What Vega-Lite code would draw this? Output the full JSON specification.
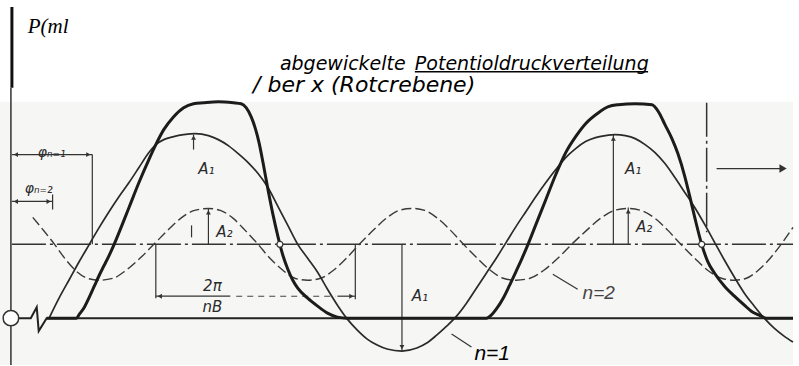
{
  "$schema": "https://vega.github.io/schema/vega-lite/v6.json",
  "width": 799,
  "height": 366,
  "autosize": {"type": "fit", "contains": "padding"},
  "padding": 0,
  "background": "white",
  "config": {"view": {"stroke": null}},
  "datasets": {
    "paper": [{"x": 0, "x2": 799, "p": 143, "p2": -121}],
    "n1": [
      {"x": 49, "p": -75}, {"x": 60, "p": -53}, {"x": 70, "p": -35}, {"x": 80, "p": -17}, {"x": 90, "p": 0},
      {"x": 100, "p": 17}, {"x": 110, "p": 33}, {"x": 120, "p": 48}, {"x": 130, "p": 62}, {"x": 140, "p": 77},
      {"x": 150, "p": 92}, {"x": 157, "p": 100}, {"x": 165, "p": 105}, {"x": 175, "p": 108}, {"x": 185, "p": 110},
      {"x": 197, "p": 111}, {"x": 210, "p": 109}, {"x": 220, "p": 105}, {"x": 230, "p": 99}, {"x": 240, "p": 91},
      {"x": 250, "p": 82}, {"x": 260, "p": 71}, {"x": 270, "p": 57}, {"x": 280, "p": 38}, {"x": 290, "p": 19},
      {"x": 300, "p": 0}, {"x": 310, "p": -14}, {"x": 320, "p": -28}, {"x": 330, "p": -45}, {"x": 340, "p": -61},
      {"x": 350, "p": -75}, {"x": 360, "p": -86}, {"x": 370, "p": -95}, {"x": 380, "p": -101}, {"x": 390, "p": -105},
      {"x": 405, "p": -107}, {"x": 420, "p": -104}, {"x": 430, "p": -99}, {"x": 440, "p": -91}, {"x": 450, "p": -82},
      {"x": 460, "p": -72}, {"x": 470, "p": -59}, {"x": 480, "p": -44}, {"x": 490, "p": -29}, {"x": 500, "p": -14},
      {"x": 510, "p": 2}, {"x": 520, "p": 18}, {"x": 530, "p": 33}, {"x": 540, "p": 48}, {"x": 550, "p": 62},
      {"x": 560, "p": 75}, {"x": 570, "p": 87}, {"x": 580, "p": 96}, {"x": 590, "p": 103}, {"x": 600, "p": 107},
      {"x": 610, "p": 109}, {"x": 620, "p": 110}, {"x": 630, "p": 109}, {"x": 640, "p": 106}, {"x": 650, "p": 100},
      {"x": 660, "p": 92}, {"x": 670, "p": 81}, {"x": 680, "p": 67}, {"x": 690, "p": 52}, {"x": 700, "p": 37},
      {"x": 710, "p": 20}, {"x": 720, "p": 2}, {"x": 730, "p": -16}, {"x": 740, "p": -33}, {"x": 750, "p": -49},
      {"x": 760, "p": -62}, {"x": 770, "p": -74}, {"x": 780, "p": -84}, {"x": 790, "p": -92}, {"x": 799, "p": -98}
    ],
    "total": [
      {"x": 47, "p": -74}, {"x": 77, "p": -74}, {"x": 80, "p": -70}, {"x": 85, "p": -63}, {"x": 90, "p": -53},
      {"x": 95, "p": -42}, {"x": 100, "p": -31}, {"x": 105, "p": -21}, {"x": 110, "p": -11}, {"x": 115, "p": 0},
      {"x": 120, "p": 12}, {"x": 130, "p": 37}, {"x": 140, "p": 62}, {"x": 150, "p": 85}, {"x": 157, "p": 100},
      {"x": 165, "p": 115}, {"x": 175, "p": 128}, {"x": 185, "p": 137}, {"x": 195, "p": 141}, {"x": 205, "p": 142},
      {"x": 220, "p": 143}, {"x": 235, "p": 142}, {"x": 243, "p": 141}, {"x": 248, "p": 137}, {"x": 253, "p": 128},
      {"x": 257, "p": 117}, {"x": 261, "p": 102}, {"x": 265, "p": 82}, {"x": 270, "p": 55}, {"x": 275, "p": 30},
      {"x": 280, "p": 8}, {"x": 285, "p": -11}, {"x": 290, "p": -25}, {"x": 295, "p": -36}, {"x": 300, "p": -44},
      {"x": 310, "p": -54}, {"x": 320, "p": -62}, {"x": 330, "p": -69}, {"x": 340, "p": -73}, {"x": 350, "p": -74},
      {"x": 490, "p": -74}, {"x": 495, "p": -71}, {"x": 500, "p": -65}, {"x": 507, "p": -54}, {"x": 513, "p": -42},
      {"x": 520, "p": -27}, {"x": 526, "p": -14}, {"x": 532, "p": 0}, {"x": 540, "p": 20}, {"x": 550, "p": 45},
      {"x": 560, "p": 70}, {"x": 570, "p": 92}, {"x": 580, "p": 108}, {"x": 590, "p": 121}, {"x": 603, "p": 132},
      {"x": 613, "p": 138}, {"x": 623, "p": 140}, {"x": 640, "p": 141}, {"x": 657, "p": 140}, {"x": 664, "p": 132},
      {"x": 670, "p": 120}, {"x": 677, "p": 106}, {"x": 683, "p": 91}, {"x": 690, "p": 68}, {"x": 695, "p": 48},
      {"x": 700, "p": 27}, {"x": 707, "p": 0}, {"x": 713, "p": -17}, {"x": 720, "p": -29}, {"x": 730, "p": -42},
      {"x": 740, "p": -52}, {"x": 750, "p": -61}, {"x": 757, "p": -67}, {"x": 765, "p": -71}, {"x": 772, "p": -74},
      {"x": 799, "p": -74}
    ],
    "n2": [
      {"x": 33, "p": 27}, {"x": 43, "p": 15}, {"x": 55, "p": 0}, {"x": 66, "p": -15}, {"x": 77, "p": -27},
      {"x": 88, "p": -34}, {"x": 100, "p": -36}, {"x": 114, "p": -34}, {"x": 127, "p": -26}, {"x": 141, "p": -14},
      {"x": 155, "p": 0}, {"x": 169, "p": 14}, {"x": 182, "p": 26}, {"x": 196, "p": 34}, {"x": 210, "p": 36},
      {"x": 222, "p": 34}, {"x": 235, "p": 26}, {"x": 247, "p": 14}, {"x": 260, "p": 0}, {"x": 272, "p": -14},
      {"x": 285, "p": -26}, {"x": 297, "p": -34}, {"x": 310, "p": -36}, {"x": 323, "p": -34}, {"x": 336, "p": -26},
      {"x": 349, "p": -14}, {"x": 362, "p": 0}, {"x": 376, "p": 14}, {"x": 389, "p": 26}, {"x": 402, "p": 34},
      {"x": 415, "p": 36}, {"x": 428, "p": 34}, {"x": 441, "p": 26}, {"x": 454, "p": 14}, {"x": 467, "p": 0},
      {"x": 481, "p": -14}, {"x": 494, "p": -26}, {"x": 507, "p": -34}, {"x": 520, "p": -36}, {"x": 534, "p": -34},
      {"x": 548, "p": -26}, {"x": 562, "p": -14}, {"x": 576, "p": 0}, {"x": 591, "p": 14}, {"x": 605, "p": 26},
      {"x": 619, "p": 34}, {"x": 633, "p": 36}, {"x": 646, "p": 34}, {"x": 660, "p": 26}, {"x": 673, "p": 14},
      {"x": 686, "p": 0}, {"x": 700, "p": -14}, {"x": 713, "p": -26}, {"x": 727, "p": -34}, {"x": 740, "p": -36},
      {"x": 752, "p": -34}, {"x": 764, "p": -26}, {"x": 776, "p": -14}, {"x": 787, "p": 0}, {"x": 799, "p": 17}
    ],
    "baseline": [
      {"i": 1, "x": 18, "p": -74}, {"i": 2, "x": 31, "p": -74}, {"i": 3, "x": 37, "p": -63},
      {"i": 4, "x": 39, "p": -87}, {"i": 5, "x": 47, "p": -74}, {"i": 6, "x": 799, "p": -74}
    ],
    "ordinate": [{"x": 12, "p": 238, "x2": 12, "p2": 157}],
    "ordinateLow": [{"x": 11, "p": 157, "x2": 11, "p2": -121}],
    "dims": [
      {"x": 12, "p": 90, "x2": 93, "p2": 90},
      {"x": 93, "p": 90, "x2": 93, "p2": 0},
      {"x": 12, "p": 43, "x2": 53, "p2": 43},
      {"x": 53, "p": 50, "x2": 53, "p2": 35},
      {"x": 157, "p": 0, "x2": 157, "p2": -54},
      {"x": 358, "p": 0, "x2": 358, "p2": -55},
      {"x": 157, "p": -52, "x2": 232, "p2": -52},
      {"x": 340, "p": -52, "x2": 358, "p2": -52},
      {"x": 195, "p": 110, "x2": 195, "p2": 95},
      {"x": 193, "p": 19, "x2": 193, "p2": 7},
      {"x": 210, "p": 36, "x2": 210, "p2": 0},
      {"x": 405, "p": 0, "x2": 405, "p2": -107},
      {"x": 618, "p": 110, "x2": 618, "p2": 0},
      {"x": 633, "p": 37, "x2": 633, "p2": 0},
      {"x": 722, "p": 76, "x2": 790, "p2": 76},
      {"x": 455, "p": -90, "x2": 475, "p2": -103},
      {"x": 557, "p": -30, "x2": 582, "p2": -45}
    ],
    "centerLines": [
      {"x": 12, "p": 0, "x2": 799, "p2": 0},
      {"x": 712, "p": 142, "x2": 712, "p2": 12}
    ],
    "pitch": [{"x": 238, "p": -52, "x2": 338, "p2": -52}],
    "underline": [{"x": 418, "p": 173, "x2": 653, "p2": 173}],
    "arrowheads": [
      {"x": 16, "p": 90, "dir": "left"}, {"x": 89, "p": 90, "dir": "right"},
      {"x": 16, "p": 43, "dir": "left"}, {"x": 49, "p": 43, "dir": "right"},
      {"x": 161, "p": -52, "dir": "left"}, {"x": 354, "p": -52, "dir": "right"},
      {"x": 195, "p": 107, "dir": "up"}, {"x": 210, "p": 32, "dir": "up"},
      {"x": 405, "p": -103, "dir": "down"}, {"x": 618, "p": 106, "dir": "up"},
      {"x": 633, "p": 33, "dir": "up"}
    ],
    "motion": [{"x": 789, "p": 76, "dir": "right"}],
    "hub": [{"x": 11, "p": -74}],
    "joints": [{"x": 282, "p": 0}, {"x": 707, "p": 0}],
    "amplitudes": [
      {"x": 208, "p": 76, "label": "A₁"}, {"x": 423, "p": -52, "label": "A₁"},
      {"x": 638, "p": 76, "label": "A₁"}, {"x": 226, "p": 12, "label": "A₂"},
      {"x": 649, "p": 17, "label": "A₂"}
    ],
    "phases": [
      {"x": 52, "p": 92, "label": "φₙ₌₁"}, {"x": 39, "p": 55, "label": "φₙ₌₂"}
    ],
    "fraction": [
      {"x": 214, "p": -42, "label": "2π"}, {"x": 214, "p": -63, "label": "nB"}
    ],
    "harmonic2": [{"x": 587, "p": -55, "label": "n=2"}],
    "harmonic1": [{"x": 478, "p": -116, "label": "n=1"}],
    "titleA": [{"x": 282, "p": 175, "label": "abgewickelte"}],
    "titleB": [{"x": 418, "p": 175, "label": "Potentioldruckverteilung"}],
    "titleC": [{"x": 255, "p": 153, "label": "/ ber x (Rotcrebene)"}],
    "ylabel": [{"x": 28, "p": 212, "label": "P(ml"}]
  },
  "encoding": {
    "x": {"field": "x", "type": "quantitative", "scale": {"domain": [0, 799], "nice": false, "zero": false}, "axis": null},
    "y": {"field": "p", "type": "quantitative", "scale": {"domain": [-121, 245], "nice": false, "zero": false}, "axis": null}
  },
  "layer": [
    {
      "data": {"name": "paper"},
      "mark": {"type": "rect", "color": "#f6f6f5"},
      "encoding": {"x2": {"field": "x2"}, "y2": {"field": "p2"}}
    },
    {
      "data": {"name": "ordinate"},
      "mark": {"type": "rule", "color": "#111", "strokeWidth": 3},
      "encoding": {"x2": {"field": "x2"}, "y2": {"field": "p2"}}
    },
    {
      "data": {"name": "ordinateLow"},
      "mark": {"type": "rule", "color": "#333", "strokeWidth": 1.5},
      "encoding": {"x2": {"field": "x2"}, "y2": {"field": "p2"}}
    },
    {
      "data": {"name": "centerLines"},
      "mark": {"type": "rule", "color": "#333", "strokeWidth": 1.5, "strokeDash": [34, 4, 3, 4]},
      "encoding": {"x2": {"field": "x2"}, "y2": {"field": "p2"}}
    },
    {
      "data": {"name": "dims"},
      "mark": {"type": "rule", "color": "#333", "strokeWidth": 1.2},
      "encoding": {"x2": {"field": "x2"}, "y2": {"field": "p2"}}
    },
    {
      "data": {"name": "pitch"},
      "mark": {"type": "rule", "color": "#444", "strokeWidth": 1.1, "strokeDash": [6, 5]},
      "encoding": {"x2": {"field": "x2"}, "y2": {"field": "p2"}}
    },
    {
      "data": {"name": "underline"},
      "mark": {"type": "rule", "color": "#000", "strokeWidth": 1.5},
      "encoding": {"x2": {"field": "x2"}, "y2": {"field": "p2"}}
    },
    {
      "data": {"name": "baseline"},
      "mark": {"type": "line", "color": "#222", "strokeWidth": 2},
      "encoding": {"order": {"field": "i"}}
    },
    {
      "data": {"name": "n2"},
      "mark": {"type": "line", "color": "#3a3a3a", "strokeWidth": 1.4, "strokeDash": [10, 4], "interpolate": "monotone"},
      "encoding": {}
    },
    {
      "data": {"name": "n1"},
      "mark": {"type": "line", "color": "#2a2a2a", "strokeWidth": 1.7, "interpolate": "monotone"},
      "encoding": {}
    },
    {
      "data": {"name": "total"},
      "mark": {"type": "line", "color": "#1c1c1c", "strokeWidth": 3, "interpolate": "monotone"},
      "encoding": {}
    },
    {
      "data": {"name": "arrowheads"},
      "mark": {"type": "point", "filled": true, "color": "#333", "size": 24, "opacity": 1},
      "encoding": {
        "shape": {"field": "dir", "type": "nominal", "legend": null,
          "scale": {"domain": ["up", "down", "left", "right"], "range": ["triangle-up", "triangle-down", "triangle-left", "triangle-right"]}}
      }
    },
    {
      "data": {"name": "motion"},
      "mark": {"type": "point", "filled": true, "color": "#333", "size": 70, "opacity": 1, "shape": "triangle-right"},
      "encoding": {}
    },
    {
      "data": {"name": "hub"},
      "mark": {"type": "point", "filled": true, "fill": "white", "stroke": "#333", "strokeWidth": 1.5, "size": 240, "opacity": 1, "shape": "circle"},
      "encoding": {}
    },
    {
      "data": {"name": "joints"},
      "mark": {"type": "point", "filled": true, "fill": "white", "stroke": "#333", "strokeWidth": 1.2, "size": 36, "opacity": 1, "shape": "circle"},
      "encoding": {}
    },
    {
      "data": {"name": "amplitudes"},
      "mark": {"type": "text", "font": "DejaVu Sans", "fontStyle": "italic", "fontSize": 15, "color": "#2a2a2a", "align": "center", "baseline": "middle"},
      "encoding": {"text": {"field": "label"}}
    },
    {
      "data": {"name": "phases"},
      "mark": {"type": "text", "font": "DejaVu Sans", "fontStyle": "italic", "fontSize": 14, "color": "#2a2a2a", "align": "center", "baseline": "middle"},
      "encoding": {"text": {"field": "label"}}
    },
    {
      "data": {"name": "fraction"},
      "mark": {"type": "text", "font": "DejaVu Sans", "fontStyle": "italic", "fontSize": 15, "color": "#2a2a2a", "align": "center", "baseline": "middle"},
      "encoding": {"text": {"field": "label"}}
    },
    {
      "data": {"name": "harmonic2"},
      "mark": {"type": "text", "font": "Liberation Sans", "fontStyle": "italic", "fontSize": 19, "color": "#444", "align": "left", "baseline": "alphabetic"},
      "encoding": {"text": {"field": "label"}}
    },
    {
      "data": {"name": "harmonic1"},
      "mark": {"type": "text", "font": "Liberation Sans", "fontStyle": "italic", "fontSize": 21, "color": "#000", "align": "left", "baseline": "alphabetic"},
      "encoding": {"text": {"field": "label"}}
    },
    {
      "data": {"name": "titleA"},
      "mark": {"type": "text", "font": "DejaVu Sans", "fontStyle": "italic", "fontSize": 19, "color": "#000", "align": "left", "baseline": "alphabetic"},
      "encoding": {"text": {"field": "label"}}
    },
    {
      "data": {"name": "titleB"},
      "mark": {"type": "text", "font": "DejaVu Sans", "fontStyle": "italic", "fontSize": 19, "color": "#000", "align": "left", "baseline": "alphabetic"},
      "encoding": {"text": {"field": "label"}}
    },
    {
      "data": {"name": "titleC"},
      "mark": {"type": "text", "font": "DejaVu Sans", "fontStyle": "italic", "fontSize": 22, "color": "#000", "align": "left", "baseline": "alphabetic"},
      "encoding": {"text": {"field": "label"}}
    },
    {
      "data": {"name": "ylabel"},
      "mark": {"type": "text", "font": "Liberation Serif", "fontStyle": "italic", "fontSize": 21, "color": "#000", "align": "left", "baseline": "alphabetic"},
      "encoding": {"text": {"field": "label"}}
    }
  ]
}
